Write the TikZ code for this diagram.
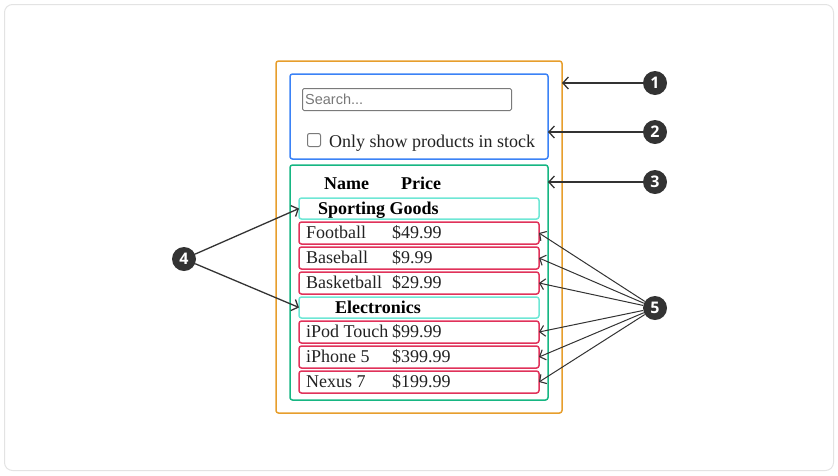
\documentclass[tikz,border=0pt]{standalone}
\usepackage{fontspec}
\setmainfont{Liberation Serif}
\newfontfamily\uisans{Liberation Sans}
\newfontfamily\badgefont{Open Sans}
\usetikzlibrary{arrows.meta}
\definecolor{cardline}{HTML}{E3E3E3}
\definecolor{orangeframe}{HTML}{E79E2C}
\definecolor{blueframe}{HTML}{3B82F6}
\definecolor{greenframe}{HTML}{16B682}
\definecolor{cyanframe}{HTML}{6EE7D5}
\definecolor{redframe}{HTML}{E0325A}
\definecolor{inputgray}{HTML}{7A7A7A}
\definecolor{placeholder}{HTML}{777777}
\definecolor{badge}{HTML}{333333}
\definecolor{ink}{HTML}{222222}
\tikzset{
  frame/.style={draw, line width=1.5pt, rounded corners=2.5pt, inner sep=0pt, outer sep=0pt, anchor=north west},
  rowbox/.style={frame, draw=redframe, minimum width=240pt, minimum height=22pt},
  catbox/.style={frame, draw=cyanframe, minimum width=240pt, minimum height=21pt},
  rowtext/.style={anchor=base west, inner sep=0pt, font=\fontsize{18}{18}\selectfont, text=ink},
  headtext/.style={anchor=base west, inner sep=0pt, font=\fontsize{18}{18}\selectfont\bfseries, text=black},
  marker/.style={circle, fill=badge, minimum size=24pt, inner sep=0pt, text=white, font=\badgefont\fontsize{16}{16}\selectfont\bfseries},
  arr/.style={draw=badge, line width=1.3pt, -{Straight Barb[length=5.5pt,width=12pt,line width=1.3pt]}},
  thinarr/.style={draw=badge, line width=1pt, -{Straight Barb[length=5pt,width=11pt,line width=1.1pt]}}
}
\begin{document}
\begin{tikzpicture}[x=1pt,y=-1pt]
\useasboundingbox (0,0) rectangle (838,475);
\draw[cardline, line width=1pt, rounded corners=8pt] (4.5,4.5) rectangle (833.5,470.5);

% frames
\node[frame, draw=orangeframe, minimum width=286pt, minimum height=352pt] (outer) at (276,61) {};
\node[frame, draw=blueframe, minimum width=258pt, minimum height=85pt] (search) at (290,74) {};
\node[frame, draw=greenframe, minimum width=258pt, minimum height=235pt] (table) at (290,165) {};

% search input
\node[draw=inputgray, line width=1pt, rounded corners=1.5pt, anchor=north west, minimum width=209pt, minimum height=22pt, inner sep=0pt] (input) at (302,88) {};
\node[anchor=base west, inner sep=0pt, text=placeholder, font=\uisans\fontsize{14.5}{14.5}\selectfont] (placeholdertext) at (305,104.5) {Search...};

% checkbox
\node[draw=inputgray, line width=1pt, rounded corners=2pt, anchor=north west, minimum width=13pt, minimum height=13pt, inner sep=0pt] (check) at (307,133) {};
\node[rowtext] (checklabel) at (329,147) {Only show products in stock};

% header
\node[headtext] (hname) at (324,189) {Name};
\node[headtext] (hprice) at (401,189) {Price};

% categories
\node[catbox] (sg) at (299,198) {};
\node[headtext] (sgtext) at (318,214) {Sporting Goods};
\node[catbox] (el) at (299,297) {};
\node[headtext] (eltext) at (335,313) {Electronics};

% rows
\node[rowbox] (r1) at (299,222) {};
\node[rowbox] (r2) at (299,247) {};
\node[rowbox] (r3) at (299,272) {};
\node[rowbox] (r4) at (299,321) {};
\node[rowbox] (r5) at (299,346) {};
\node[rowbox] (r6) at (299,371) {};

\node[rowtext] (n1) at (306,238) {Football};
\node[rowtext] (p1) at (392,238) {\$49.99};
\node[rowtext] (n2) at (306,263) {Baseball};
\node[rowtext] (p2) at (392,263) {\$9.99};
\node[rowtext] (n3) at (306,288) {Basketball};
\node[rowtext] (p3) at (392,288) {\$29.99};
\node[rowtext] (n4) at (306,337) {iPod Touch};
\node[rowtext] (p4) at (392,337) {\$99.99};
\node[rowtext] (n5) at (306,362) {iPhone 5};
\node[rowtext] (p5) at (392,362) {\$399.99};
\node[rowtext] (n6) at (306,387) {Nexus 7};
\node[rowtext] (p6) at (392,387) {\$199.99};

% markers
\node[marker] (m1) at (655,83) {1};
\node[marker] (m2) at (655,132) {2};
\node[marker] (m3) at (655,182) {3};
\node[marker] (m4) at (184,259) {4};
\node[marker] (m5) at (655,308) {5};

% connectors
\draw[arr] (m1.west) -- (m1.west -| outer.east);
\draw[arr] (m2.west) -- (m2.west -| search.east);
\draw[arr] (m3.west) -- (m3.west -| table.east);
\draw[arr] (m4) -- (sg.west);
\draw[arr] (m4) -- (el.west);
\foreach \r in {r1,r2,r3,r4,r5,r6} {
  \draw[thinarr] (m5) -- (\r.east);
}
\end{tikzpicture}
\end{document}
